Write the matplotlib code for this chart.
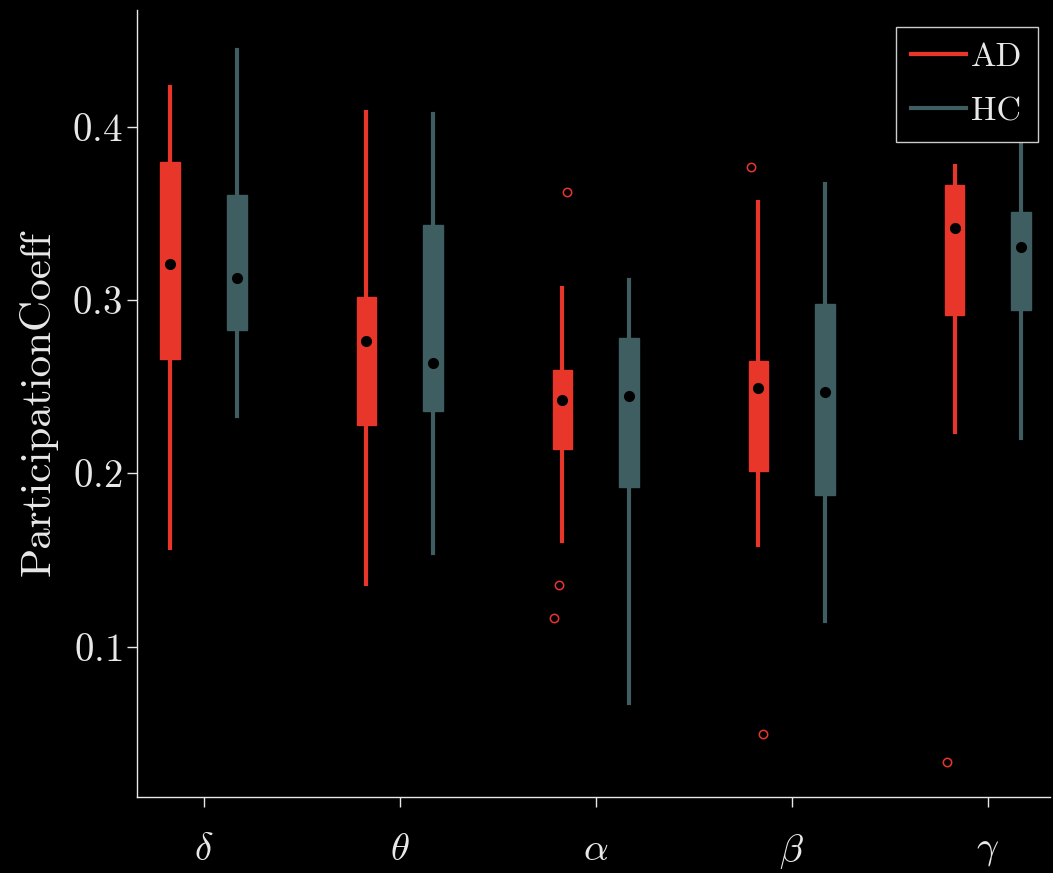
import matplotlib

matplotlib.use("Agg")
import matplotlib.pyplot as plt
import numpy as np
from matplotlib.lines import Line2D

plt.rcParams["font.family"] = "serif"
plt.rcParams["font.serif"] = ["cmr10"]
plt.rcParams["mathtext.fontset"] = "cm"
plt.rcParams["axes.formatter.use_mathtext"] = True

bands = [r"$\delta$", r"$\theta$", r"$\alpha$", r"$\beta$", r"$\gamma$"]

ad_whislo = [0.157, 0.136, 0.161, 0.159, 0.224]
ad_q1 = [0.266, 0.228, 0.214, 0.2015, 0.2915]
ad_med = [0.321, 0.2765, 0.2425, 0.2494, 0.3417]
ad_q3 = [0.3794, 0.3019, 0.2598, 0.265, 0.3662]
ad_whishi = [0.4227, 0.4087, 0.307, 0.3567, 0.3775]
ad_fliers = [[], [], [0.3625, 0.1357, 0.1167], [0.3765, 0.0498], [0.0336]]
ad_flier_jitter = [[], [], [0.025, -0.016, -0.041], [-0.04, 0.024], [-0.04]]

hc_whislo = [0.2332, 0.1542, 0.0676, 0.1152, 0.2203]
hc_q1 = [0.2825, 0.2361, 0.192, 0.1877, 0.2944]
hc_med = [0.3129, 0.2638, 0.2448, 0.2471, 0.3308]
hc_q3 = [0.3604, 0.3435, 0.2783, 0.2979, 0.351]
hc_whishi = [0.4444, 0.4075, 0.3117, 0.3667, 0.41]

AD_COLOR = "#e8372a"
HC_COLOR = "#3f5e61"
FG = "#e8e8e8"


def make_stats(lo, q1, med, q3, hi):
    return [
        dict(whislo=a, q1=b, med=c, q3=d, whishi=e, fliers=[])
        for a, b, c, d, e in zip(lo, q1, med, q3, hi)
    ]


fig = plt.figure(figsize=(10.53, 8.73), dpi=100, facecolor="black")
ax = fig.add_axes([0.130, 0.087, 0.867, 0.902])
ax.set_facecolor("black")

x = np.arange(len(bands))
off = 0.17
w = 0.1

groups = [
    ("AD", AD_COLOR, x - off, make_stats(ad_whislo, ad_q1, ad_med, ad_q3, ad_whishi), ad_med),
    ("HC", HC_COLOR, x + off, make_stats(hc_whislo, hc_q1, hc_med, hc_q3, hc_whishi), hc_med),
]
for name, col, pos, stats, med in groups:
    ax.bxp(
        stats,
        positions=pos,
        widths=w,
        patch_artist=True,
        showcaps=False,
        showfliers=False,
        boxprops=dict(facecolor=col, edgecolor=col, linewidth=1),
        whiskerprops=dict(color=col, linewidth=3),
        medianprops=dict(linewidth=0),
        manage_ticks=False,
    )
    ax.plot(pos, med, "o", color="black", markersize=7, zorder=5)

for i, (vals, jit) in enumerate(zip(ad_fliers, ad_flier_jitter)):
    if vals:
        ax.plot(np.array(jit) + x[i] - off, vals, "o", mfc="none", mec=AD_COLOR,
                markersize=6, mew=1.1, zorder=4)

ax.set_xlim(-0.34, 4.316)
ax.set_ylim(0.0134, 0.4675)
ax.set_xticks(x)
ax.set_xticklabels(bands)
ax.set_yticks([0.1, 0.2, 0.3, 0.4])
ax.set_ylabel("ParticipationCoeff", color=FG, fontsize=31, labelpad=10)

for side in ("top", "right"):
    ax.spines[side].set_visible(False)
for side in ("left", "bottom"):
    ax.spines[side].set_color(FG)
    ax.spines[side].set_linewidth(1)
ax.tick_params(colors=FG, labelsize=28, length=7, width=1, direction="out")
ax.tick_params(axis="x", pad=18)

handles = [Line2D([], [], color=AD_COLOR, lw=3), Line2D([], [], color=HC_COLOR, lw=3)]
leg = ax.legend(handles, ["AD", "HC"], loc="upper right", fontsize=24.5,
                frameon=True, fancybox=False, facecolor="black", edgecolor="#cccccc",
                framealpha=1, handlelength=1.6, handletextpad=0.15, borderaxespad=0,
                labelspacing=0.72, borderpad=0.45,
                bbox_to_anchor=(0.9865, 0.978))
for t in leg.get_texts():
    t.set_color(FG)
leg.get_frame().set_linewidth(1)
leg.set_zorder(10)

fig.savefig("out.png", dpi=100, facecolor="black")
